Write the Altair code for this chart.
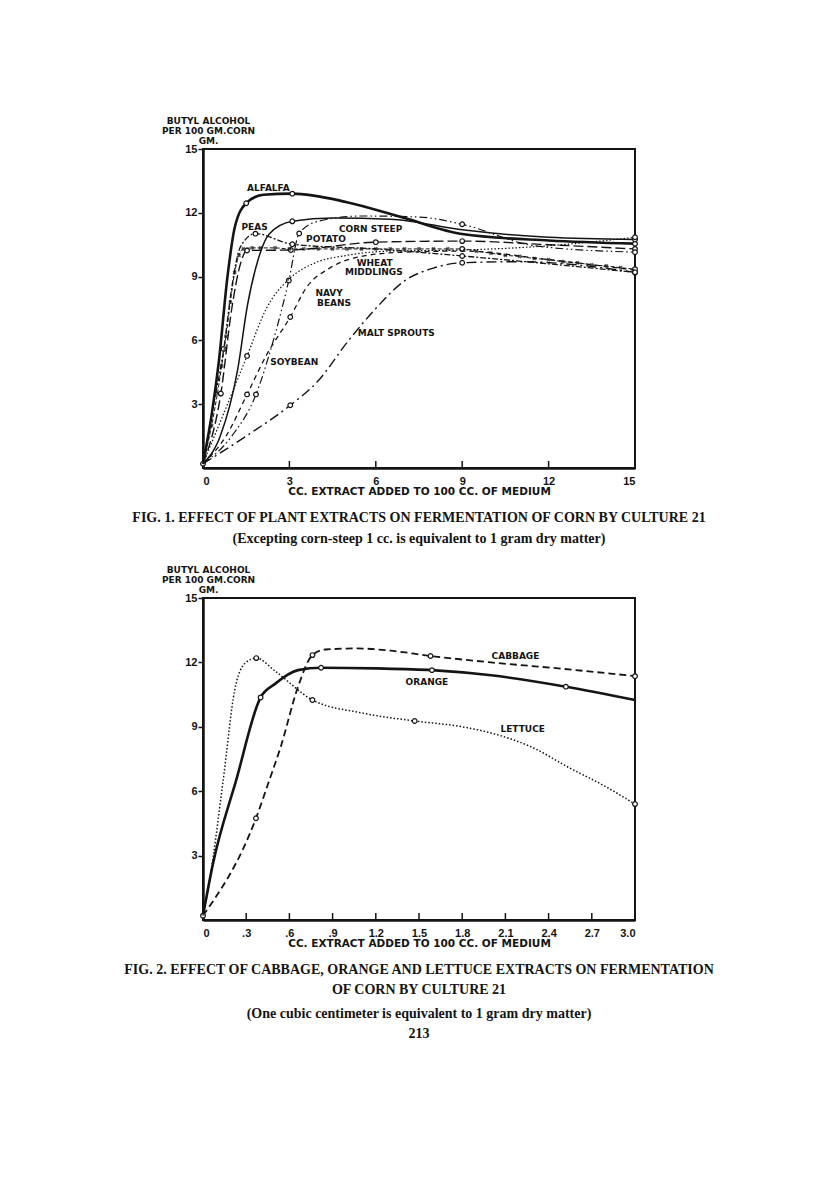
import altair as alt
import pandas as pd

# ---------------- Fig. 1 data (cc. extract vs butyl alcohol, gm/100 gm corn) -------------
alfalfa_x = [0, 0.3, 0.55, 0.85, 1.1, 1.5, 2.1, 3.1, 5, 7, 9, 12, 15]
alfalfa_y = [0.2, 2.5, 5.0, 9.0, 11.3, 12.45, 12.85, 12.9, 12.5, 11.75, 11.0, 10.7, 10.55]
alfalfa_o = [0, 1.5, 3.1, 15]

corn_x = [0, 0.6, 1.2, 1.55, 1.85, 2.3, 3.1, 4.5, 6.5, 9, 12, 15]
corn_y = [0.2, 1.5, 4.6, 7.7, 9.5, 11.0, 11.6, 11.75, 11.7, 11.2, 10.85, 10.75]
corn_o = [3.1, 15]

peas_x = [0, 0.3, 0.72, 1.0, 1.3, 1.82, 3.1, 6, 9, 12, 15]
peas_y = [0.2, 2.5, 5.6, 8.5, 10.4, 11.02, 10.52, 10.3, 9.97, 9.6, 9.2]
peas_o = [0.72, 1.82, 3.1, 9, 15]

potato_x = [0, 0.62, 1.0, 1.3, 1.53, 3.05, 6, 9, 12, 15]
potato_y = [0.2, 3.5, 7.5, 9.6, 10.23, 10.25, 10.62, 10.67, 10.5, 10.3]
potato_o = [0.62, 1.53, 3.05, 6, 9, 15]

wheat_x = [0, 0.3, 0.5, 0.65, 0.8, 0.95, 1.1, 1.25, 1.4, 1.7, 2, 2.5, 3, 3.5, 4, 4.5, 5, 5.5,
           6, 6.5, 7, 7.5, 8, 8.5, 9, 9.5, 10, 10.5, 11, 11.5, 12, 12.5, 13, 13.5, 14, 14.5, 15]
wheat_y = [0.2, 2.0, 3.5, 4.8, 6.2, 7.8, 9.2, 10.0, 10.3, 10.35, 10.35, 10.35, 10.3, 10.3, 10.3,
           10.3, 10.3, 10.3, 10.3, 10.3, 10.3, 10.3, 10.3, 10.3, 10.3, 10.2, 10.1, 10.0, 9.95,
           9.85, 9.8, 9.7, 9.65, 9.55, 9.5, 9.42, 9.35]
wheat_o = [9, 15]

navy_x = [0, 0.8, 1.53, 2.2, 3.03, 3.6, 4.4, 5.5, 7, 9, 12, 15]
navy_y = [0.2, 1.5, 3.46, 5.3, 7.1, 8.5, 9.4, 9.95, 10.15, 10.2, 9.8, 9.3]
navy_o = [1.53, 3.03]

soy_x = [0, 1.0, 1.84, 2.4, 2.98, 3.34, 4, 5.5, 7.5, 9, 11.5, 15]
soy_y = [0.2, 1.5, 3.46, 5.8, 8.82, 11.03, 11.6, 11.85, 11.8, 11.46, 10.45, 10.15]
soy_o = [1.84, 2.98, 3.34, 9, 15]

dotted_x = [0, 0.7, 1.53, 2.2, 3.0, 3.9, 5, 6.5, 9, 12, 15]
dotted_y = [0.2, 2.5, 5.27, 7.5, 8.9, 9.65, 10.0, 10.2, 10.25, 10.45, 10.85]
dotted_o = [1.53, 15]

malt_x = [0, 1.5, 3.03, 4.0, 5.0, 6.0, 7.0, 8.0, 9, 11, 13, 15]
malt_y = [0.2, 1.5, 2.95, 4.1, 5.9, 7.5, 8.8, 9.4, 9.65, 9.7, 9.55, 9.2]
malt_o = [3.03, 9, 15]

fig1_label_text = ["ALFALFA", "PEAS", "CORN STEEP", "POTATO", "WHEAT", "MIDDLINGS",
                   "NAVY", "BEANS", "SOYBEAN", "MALT SPROUTS"]
fig1_label_x = [2.27, 1.79, 5.82, 4.27, 5.96, 5.93, 4.38, 4.55, 3.17, 6.71]
fig1_label_y = [13.18, 11.35, 11.25, 10.75, 9.65, 9.23, 8.24, 7.77, 4.98, 6.36]

fig1_xticks = [0, 3, 6, 9, 12, 15]
fig1_yticks = [3, 6, 9, 12, 15]

# ---------------- Fig. 2 data -------------
cabbage_x = [0, 0.368, 0.46, 0.54, 0.66, 0.76, 0.85, 1.07, 1.3, 1.58, 2.0, 2.5, 3.0]
cabbage_y = [0.2, 4.74, 6.5, 8.07, 10.87, 12.34, 12.6, 12.65, 12.55, 12.3, 12.0, 11.7, 11.36]
cabbage_o = [0.368, 0.76, 1.58, 3.0]

orange_x = [0, 0.07, 0.23, 0.40, 0.5, 0.66, 0.82, 1.2, 1.59, 2.0, 2.52, 3.0]
orange_y = [0.2, 2.65, 6.5, 10.37, 11.0, 11.64, 11.75, 11.72, 11.64, 11.4, 10.87, 10.25]
orange_o = [0, 0.40, 0.82, 1.59, 2.52]

lettuce_x = [0, 0.05, 0.14, 0.22, 0.29, 0.37, 0.5, 0.76, 1.1, 1.47, 1.8, 2.05, 2.3, 2.53, 2.8, 3.0]
lettuce_y = [0.2, 2.0, 6.5, 10.7, 11.95, 12.2, 11.6, 10.25, 9.65, 9.27, 9.0, 8.62, 8.0, 7.14, 6.2, 5.4]
lettuce_o = [0.37, 0.76, 1.47, 3.0]

fig2_label_text = ["CABBAGE", "ORANGE", "LETTUCE"]
fig2_label_x = [2.17, 1.555, 2.22]
fig2_label_y = [12.31, 11.1, 8.88]

fig2_xticks = [0, 0.3, 0.6, 0.9, 1.2, 1.5, 1.8, 2.1, 2.4, 2.7, 3.0]
fig2_yticks = [3, 6, 9, 12, 15]

INK = "#141414"
SANS = "Liberation Sans"
WIDE = "DejaVu Sans"
SERIF = "Liberation Serif"


def series_layers(xs, ys, marks, dash, width, xdom, ydom, crosses=False):
    df = pd.DataFrame({"x": xs, "y": ys})
    xs_ = alt.Scale(domain=xdom, nice=False, zero=True)
    ys_ = alt.Scale(domain=ydom, nice=False, zero=True)
    line_kwargs = dict(color=INK, strokeWidth=width, interpolate="monotone")
    if dash:
        line_kwargs["strokeDash"] = dash
    line = alt.Chart(df).mark_line(**line_kwargs).encode(
        x=alt.X("x:Q", scale=xs_), y=alt.Y("y:Q", scale=ys_))
    layers = [line]
    if crosses:
        cdf = df[df["x"] > 0.2]
        layers.append(alt.Chart(cdf).mark_point(shape="cross", angle=45, filled=True,
                                                 color=INK, size=18).encode(
            x=alt.X("x:Q", scale=xs_), y=alt.Y("y:Q", scale=ys_)))
    odf = df[df["x"].isin(marks)]
    layers.append(alt.Chart(odf).mark_point(shape="circle", filled=True, fill="white",
                                             stroke=INK, strokeWidth=1.2, size=22,
                                             opacity=1).encode(
        x=alt.X("x:Q", scale=xs_), y=alt.Y("y:Q", scale=ys_)))
    return layers


def make_panel(series, labels, xticks, yticks, xdom, ydom, w, h, xlabel_expr, title):
    xs_ = alt.Scale(domain=xdom, nice=False, zero=True)
    ys_ = alt.Scale(domain=ydom, nice=False, zero=True)
    ytitle = ["BUTYL ALCOHOL", "PER 100 GM.CORN", "GM."]
    base = alt.Chart(pd.DataFrame({"t": xticks})).mark_rule(color=INK, strokeWidth=1.5).encode(
        x=alt.X("t:Q", scale=xs_,
                axis=alt.Axis(values=xticks, title="CC. EXTRACT ADDED TO 100 CC. OF MEDIUM",
                              labelExpr=xlabel_expr, tickSize=0, labelPadding=7,
                              titlePadding=0, titleFont=WIDE, titleFontSize=10.5,
                              grid=False)),
        y=alt.value(h - 7), y2=alt.value(h))
    yaxis_layer = alt.Chart(pd.DataFrame({"v": yticks})).mark_point(opacity=0).encode(
        y=alt.Y("v:Q", scale=ys_,
                axis=alt.Axis(values=yticks, title=ytitle, titleAngle=0, titleAlign="center",
                              titleBaseline="top", titleX=5, titleY=-33, titleLineHeight=10,
                              titleFont=WIDE, titleFontSize=9,
                              tickSize=5, tickWidth=1.5, tickColor=INK, labelPadding=1,
                              grid=False)),
        x=alt.value(0))
    layers = [base, yaxis_layer]
    for s in series:
        if len(s) == 5:
            layers += series_layers(*s, xdom, ydom)
        else:
            layers += series_layers(*s[:5], xdom, ydom, crosses=s[5])
    ldf = pd.DataFrame({"x": labels[1], "y": labels[2], "t": labels[0]})
    layers.append(alt.Chart(ldf).mark_text(font=WIDE, fontWeight="bold", fontSize=9,
                                           color=INK).encode(
        x=alt.X("x:Q", scale=xs_), y=alt.Y("y:Q", scale=ys_), text="t:N"))
    return alt.layer(*layers).properties(width=w, height=h, title=title)


fig1_series = [
    (alfalfa_x, alfalfa_y, alfalfa_o, None, 2.6),
    (corn_x, corn_y, corn_o, None, 1.5),
    (peas_x, peas_y, peas_o, [6, 2, 2, 2], 1.3),
    (potato_x, potato_y, potato_o, [10, 4], 1.4),
    (wheat_x, wheat_y, wheat_o, [4, 2], 1.0, True),
    (navy_x, navy_y, navy_o, [5, 4], 1.3),
    (soy_x, soy_y, soy_o, [8, 3, 1.5, 3, 1.5, 3], 1.2),
    (dotted_x, dotted_y, dotted_o, [1.5, 2], 1.2),
    (malt_x, malt_y, malt_o, [10, 4, 2, 4], 1.4),
]
fig2_series = [
    (cabbage_x, cabbage_y, cabbage_o, [7, 4], 1.8),
    (orange_x, orange_y, orange_o, None, 2.6),
    (lettuce_x, lettuce_y, lettuce_o, [1.5, 2], 1.5),
]

title1 = alt.TitleParams(
    text=["FIG. 1. EFFECT OF PLANT EXTRACTS ON FERMENTATION OF CORN BY CULTURE 21"],
    subtitle=["(Excepting corn-steep 1 cc. is equivalent to 1 gram dry matter)"],
    orient="bottom", anchor="middle", font=SERIF, fontSize=14, fontWeight="bold",
    color=INK, subtitleFont=SERIF, subtitleFontSize=14, subtitleFontWeight="bold",
    subtitleColor=INK, subtitlePadding=7, offset=14, lineHeight=20)
title2 = alt.TitleParams(
    text=["FIG. 2. EFFECT OF CABBAGE, ORANGE AND LETTUCE EXTRACTS ON FERMENTATION",
          "OF CORN BY CULTURE 21"],
    subtitle=["(One cubic centimeter is equivalent to 1 gram dry matter)", "213"],
    orient="bottom", anchor="middle", font=SERIF, fontSize=14, fontWeight="bold",
    color=INK, subtitleFont=SERIF, subtitleFontSize=14, subtitleFontWeight="bold",
    subtitleColor=INK, subtitlePadding=10, offset=14, lineHeight=20, subtitleLineHeight=20)

fig1_xexpr = "format(datum.value, 'd')"
fig2_xexpr = ("datum.value == 0 ? '0' : (datum.value < 1 ? replace(format(datum.value, '.1f'), '0.', '.')"
              " : format(datum.value, '.1f'))")

p1 = make_panel(fig1_series, (fig1_label_text, fig1_label_x, fig1_label_y), fig1_xticks,
                fig1_yticks, [0, 15], [0, 15], 432, 319, fig1_xexpr, title1)
p2 = make_panel(fig2_series, (fig2_label_text, fig2_label_x, fig2_label_y), fig2_xticks,
                fig2_yticks, [0, 3], [0, 15], 432, 322, fig2_xexpr, title2)

chart = alt.vconcat(p1, p2, spacing=17).properties(
    padding={"left": 114, "top": 107, "right": 5, "bottom": 5},
    background="white"
).configure_view(stroke=INK, strokeWidth=2).configure_axis(
    domainColor=INK, domainWidth=2.5, labelFont=SANS, labelFontWeight="bold",
    labelFontSize=11, labelColor=INK, titleFont=SANS, titleFontWeight="bold",
    titleFontSize=9, titleColor=INK
)

chart.save("out.html", embed_options={"renderer": "svg", "actions": False})
